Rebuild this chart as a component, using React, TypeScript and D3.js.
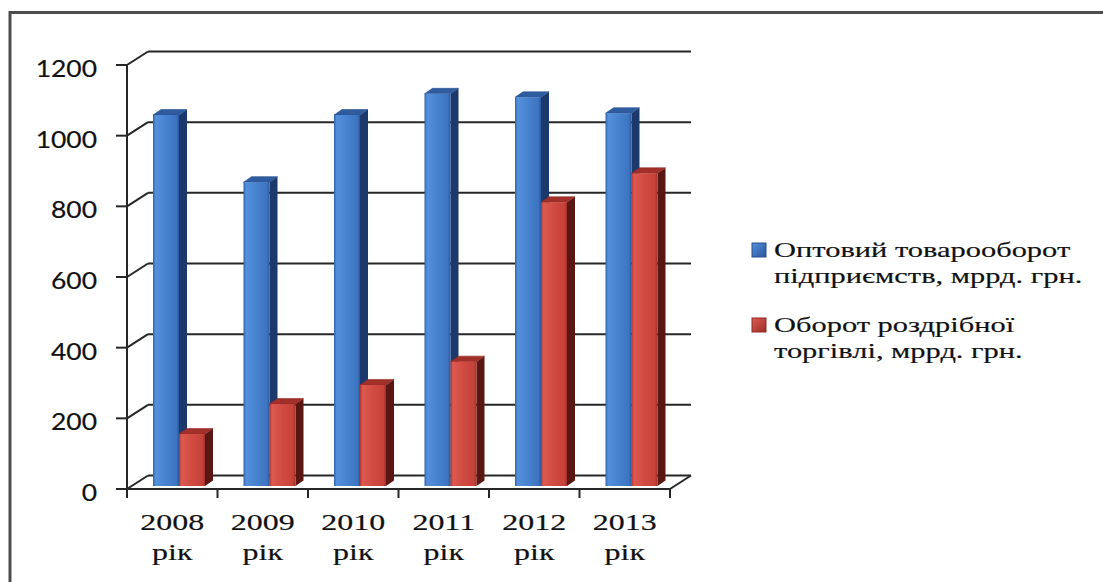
import React from 'react';
import * as d3 from 'd3';

// Turnover data, billion UAH
const years = ['2008', '2009', '2010', '2011', '2012', '2013'];
const yearSuffix = 'рік';
const wholesale = [1050, 860, 1050, 1110, 1100, 1055];
const retail = [147, 232, 286, 352, 803, 885];
const yTicks = [0, 200, 400, 600, 800, 1000, 1200];
const wholesaleLabel = ['Оптовий товарооборот', 'підприємств, мррд. грн.'];
const retailLabel = ['Оборот роздрібної', 'торгівлі, мррд. грн.'];

const W = 1103;
const H = 582;

// front plane of the 3D box
const FX0 = 127;
const FX1 = 670;
const FY0 = 489;
const FY1 = 65;
// depth of the box (back wall offset)
const DX = 21;
const DY = -13.5;
// plane where the bar fronts stand, and bar depth
const BZX = 4;
const BZY = -3;
const BDX = 8;
const BDY = -5.5;

const STRETCH = 1.42;

const palette = {
  blue: { front: ['#2f62ab', '#5590dc', '#4782d0', '#3d74c0', '#2a569a'], top: '#2f5c9f', side: '#1b3a6b', edge: '#274f8f' },
  red: { front: ['#b0352d', '#dc5a51', '#d04a41', '#c6433a', '#9c2f28'], top: '#a22f29', side: '#5a1613', edge: '#8e2a24' },
};

export default function App() {
  const x = d3.scaleBand<string>().domain(years).range([FX0, FX1]).paddingInner(0).paddingOuter(0);
  const y = d3.scaleLinear().domain([0, 1200]).range([FY0, FY1]);
  const inner = d3.scaleBand<string>().domain(['w', 'r']).range([22, 74]).paddingInner(0);

  const series = [
    { key: 'w', values: wholesale, c: palette.blue, id: 'blue' },
    { key: 'r', values: retail, c: palette.red, id: 'red' },
  ];

  const bars: React.ReactNode[] = [];
  years.forEach((yr, i) => {
    series.forEach((s) => {
      const v = s.values[i];
      const xl = (x(yr) as number) + (inner(s.key) as number) + BZX;
      const xr = xl + inner.bandwidth();
      const yb = y(0) + BZY;
      const yt = y(v) + BZY;
      const top = `${xl},${yt} ${xr},${yt} ${xr + BDX},${yt + BDY} ${xl + BDX},${yt + BDY}`;
      const side = `${xr},${yb} ${xr + BDX},${yb + BDY} ${xr + BDX},${yt + BDY} ${xr},${yt}`;
      bars.push(
        <g key={`${yr}-${s.key}`}>
          <polygon points={side} fill={s.c.side} />
          <polygon points={top} fill={s.c.top} stroke={s.c.edge} strokeWidth={0.6} />
          <rect x={xl} y={yt} width={xr - xl} height={yb - yt} fill={`url(#front-${s.id})`} />
        </g>
      );
    });
  });

  const lineColor = '#262626';
  const ink = '#111';

  return (
    <svg width={W} height={H} style={{ position: 'absolute', left: 0, top: 0, background: '#fff' }}>
      <defs>
        {series.map((s) => (
          <linearGradient key={s.id} id={`front-${s.id}`} x1="0" x2="1" y1="0" y2="0">
            <stop offset="0" stopColor={s.c.front[0]} />
            <stop offset="0.1" stopColor={s.c.front[1]} />
            <stop offset="0.5" stopColor={s.c.front[2]} />
            <stop offset="0.9" stopColor={s.c.front[3]} />
            <stop offset="1" stopColor={s.c.front[4]} />
          </linearGradient>
        ))}
        {series.map((s) => (
          <linearGradient key={`lg-${s.id}`} id={`legend-${s.id}`} x1="0" x2="1" y1="0" y2="1">
            <stop offset="0" stopColor={s.c.front[1]} />
            <stop offset="1" stopColor={s.c.front[4]} />
          </linearGradient>
        ))}
      </defs>

      <rect x={0} y={0} width={W} height={H} fill="#fff" />
      {/* outer frame */}
      <rect x={10} y={12.5} width={W + 20} height={H + 20} fill="none" stroke="#4d4d4d" strokeWidth={3} />

      {/* back wall gridlines and left wall slants */}
      {yTicks.map((t) => (
        <g key={`g${t}`}>
          <line x1={FX0 + DX} x2={FX1 + DX} y1={y(t) + DY} y2={y(t) + DY} stroke={lineColor} strokeWidth={2} />
          <line x1={FX0} x2={FX0 + DX} y1={y(t)} y2={y(t) + DY} stroke={lineColor} strokeWidth={2} />
          <line x1={FX0 - 11} x2={FX0} y1={y(t)} y2={y(t)} stroke={lineColor} strokeWidth={2} />
        </g>
      ))}
      {/* vertical axis */}
      <line x1={FX0} x2={FX0} y1={y(1200)} y2={y(0)} stroke={lineColor} strokeWidth={2} />
      {/* floor */}
      <line x1={FX0} x2={FX1} y1={y(0)} y2={y(0)} stroke={lineColor} strokeWidth={2} />
      <line x1={FX1} x2={FX1 + DX} y1={y(0)} y2={y(0) + DY} stroke={lineColor} strokeWidth={2} />
      {/* category ticks */}
      {[...years.map((yr) => x(yr) as number), FX1].map((tx, i) => (
        <line key={`t${i}`} x1={tx} x2={tx} y1={y(0)} y2={y(0) + 9} stroke={lineColor} strokeWidth={2} />
      ))}

      {bars}

      {/* value axis labels */}
      {yTicks.map((t) => (
        <text
          key={`l${t}`}
          transform={`translate(97,${y(t) + 12}) scale(1.15,1)`}
          textAnchor="end"
          fontFamily="Lato, 'Open Sans', sans-serif"
          fontSize={23}
          fill={ink}
          stroke={ink}
          strokeWidth={0.2}
        >
          {t}
        </text>
      ))}

      {/* category labels */}
      {years.map((yr) => {
        const cx = (x(yr) as number) + x.bandwidth() / 2;
        return (
          <g key={`c${yr}`} fontFamily="'Liberation Serif', 'Times New Roman', serif" fontSize={22.5} fill={ink} stroke={ink} strokeWidth={0.18}>
            <text transform={`translate(${cx},530) scale(${STRETCH},1)`} textAnchor="middle">{yr}</text>
            <text transform={`translate(${cx},560) scale(${STRETCH},1)`} textAnchor="middle">{yearSuffix}</text>
          </g>
        );
      })}

      {/* legend */}
      {[
        { lines: wholesaleLabel, id: 'blue', c: palette.blue, y0: 257 },
        { lines: retailLabel, id: 'red', c: palette.red, y0: 332 },
      ].map((e) => (
        <g key={`lg${e.id}`} fontFamily="'Liberation Serif', 'Times New Roman', serif" fontSize={21} fill={ink}>
          <rect x={752} y={e.y0 - 14} width={14} height={14} fill={`url(#legend-${e.id})`} stroke={e.c.edge} strokeWidth={1} />
          {e.lines.map((ln, k) => (
            <text key={k} transform={`translate(774,${e.y0 + k * 25.5}) scale(1.45,1)`} stroke={ink} strokeWidth={0.18}>{ln}</text>
          ))}
        </g>
      ))}
    </svg>
  );
}
